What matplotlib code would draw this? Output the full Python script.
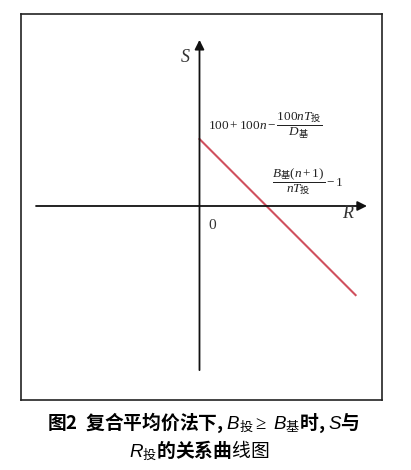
import matplotlib
matplotlib.use("Agg")
import matplotlib.pyplot as plt

plt.rcParams['mathtext.fontset'] = 'custom'
plt.rcParams['mathtext.rm'] = 'Liberation Serif'
plt.rcParams['mathtext.it'] = 'Liberation Serif:italic'
plt.rcParams['mathtext.sf'] = 'Noto Sans CJK SC'
plt.rcParams['mathtext.tt'] = 'Liberation Sans:italic'
plt.rcParams['mathtext.bf'] = 'Liberation Serif:bold'
plt.rcParams['font.family'] = ['Noto Sans CJK SC', 'DejaVu Sans']

# data (abstract units)
R_vals = [0.0, 2.33]
S_vals = [1.0, -1.33]
x_axis_range = [-2.44, 2.50]
y_axis_range = [-2.45, 2.48]
axis_labels = ["R", "S"]
formula_top = r"$100+100n-\dfrac{100nT_{\mathsf{投}}}{D_{\mathsf{基}}}$"
formula_mid = r"$\dfrac{B_{\mathsf{基}}(n+1)}{nT_{\mathsf{投}}}-1$"
caption1 = r"图2  复合平均价法下, $\mathtt{B}_{\mathsf{投}}\geq$ $\mathtt{B}_{\mathsf{基}}$时, $\mathtt{S}$与"
caption2 = r"$\mathtt{R}_{\mathsf{投}}$的关系曲$\mathsf{线图}$"

fig = plt.figure(figsize=(4.11, 4.70), dpi=100)
ax = fig.add_axes([21/411, 1 - 400/470, 361/411, 386/470])
ax.set_xlim(-2.664, 2.724)
ax.set_ylim(-2.896, 2.866)
ax.set_xticks([])
ax.set_yticks([])
for s in ax.spines.values():
    s.set_linewidth(1.2)
    s.set_color('#222222')

arrow_kw = dict(arrowstyle='-|>', color='#111111', lw=1.3, mutation_scale=14,
                shrinkA=0, shrinkB=0)
ax.annotate('', xy=(x_axis_range[1], 0), xytext=(x_axis_range[0], 0), arrowprops=arrow_kw)
ax.annotate('', xy=(0, y_axis_range[1]), xytext=(0, y_axis_range[0]), arrowprops=arrow_kw)

ax.plot(R_vals, S_vals, color='#d0505e', lw=1.5)

ax.text(2.13, 0.03, "$\\mathit{" + axis_labels[0] + "}$", fontsize=13, ha='left', va='top', color='#333333')
ax.text(-0.13, 2.23, "$\\mathit{" + axis_labels[1] + "}$", fontsize=13, ha='right', va='center', color='#333333')
ax.text(0.13, -0.28, "$0$", fontsize=11, ha='left', va='center', color='#333333')

ax.text(0.12, 1.20, formula_top, fontsize=9.5, ha='left', va='center', color='#222222')
ax.text(1.08, 0.36, formula_mid, fontsize=9.5, ha='left', va='center', color='#222222')

fig.text(0.495, 1 - 423/470, caption1, fontsize=13.5, fontweight='bold', ha='center', va='center')
fig.text(0.485, 1 - 451/470, caption2, fontsize=13.5, fontweight='bold', ha='center', va='center')

fig.savefig("out.png", dpi=100)
